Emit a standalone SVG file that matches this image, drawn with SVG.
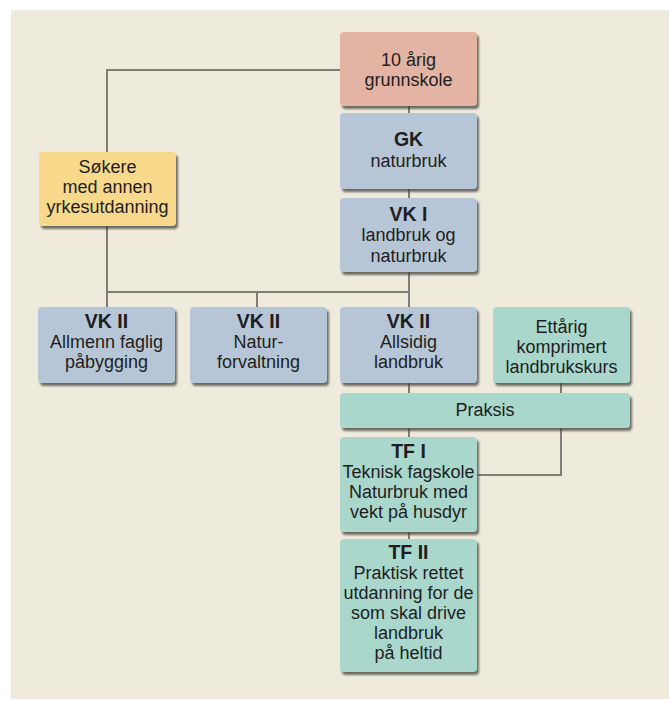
<svg xmlns="http://www.w3.org/2000/svg" width="669" height="701" viewBox="0 0 669 701">
<defs>
<filter id="sh" x="-10%" y="-10%" width="125%" height="130%">
<feDropShadow dx="2" dy="3" stdDeviation="1.2" flood-color="#3f3f3a" flood-opacity="0.75"/>
</filter>
<style>
.box{filter:url(#sh);}
.pink{fill:#e3b3a3;}
.blue{fill:#b6c6d6;}
.yel{fill:#f8d98b;}
.teal{fill:#a9d7cc;}
text{font-family:"Liberation Sans",Arial,sans-serif;font-size:18px;fill:#1e1e1e;text-anchor:middle;}
.b{font-weight:bold;font-size:19.5px;}
.ln{fill:none;stroke:#7e7e76;stroke-width:2;}
</style>
</defs>
<rect x="0" y="0" width="669" height="701" fill="#ffffff"/>
<rect x="11" y="10" width="658" height="689" fill="#eeeadc"/>
<g id="connectors">
<polyline class="ln" points="340,70 107,70 107,152"/>
<polyline class="ln" points="107,226 107,307"/>
<polyline class="ln" points="107,292 409,292"/>
<line class="ln" x1="257" y1="292" x2="257" y2="307"/>
<line class="ln" x1="409" y1="106" x2="409" y2="113"/>
<line class="ln" x1="409" y1="189" x2="409" y2="198"/>
<line class="ln" x1="409" y1="272" x2="409" y2="307"/>
<line class="ln" x1="409" y1="383" x2="409" y2="393"/>
<line class="ln" x1="561" y1="383" x2="561" y2="393"/>
<polyline class="ln" points="561,428 561,475 477,475"/>
<line class="ln" x1="409" y1="428" x2="409" y2="437"/>
<line class="ln" x1="409" y1="532" x2="409" y2="539"/>
</g>
<g id="grunnskole">
<rect class="box pink" x="340" y="32" width="137" height="74" rx="4"/>
<text x="408.5" y="66">10 årig</text>
<text x="408.5" y="86">grunnskole</text>
</g>
<g id="gk">
<rect class="box blue" x="340" y="113" width="137" height="76" rx="4"/>
<text class="b" x="408.5" y="146">GK</text>
<text x="408.5" y="167">naturbruk</text>
</g>
<g id="vk1">
<rect class="box blue" x="340" y="198" width="137" height="74" rx="4"/>
<text class="b" x="408.5" y="221">VK I</text>
<text x="408.5" y="241">landbruk og</text>
<text x="408.5" y="262">naturbruk</text>
</g>
<g id="sokere">
<rect class="box yel" x="39" y="152" width="137" height="74" rx="4"/>
<text x="107.5" y="173">Søkere</text>
<text x="107.5" y="193">med annen</text>
<text x="107.5" y="213">yrkesutdanning</text>
</g>
<g id="vk2-allmenn">
<rect class="box blue" x="38" y="307" width="137" height="76" rx="4"/>
<text class="b" x="106.5" y="328">VK II</text>
<text x="106.5" y="348">Allmenn faglig</text>
<text x="106.5" y="368">påbygging</text>
</g>
<g id="vk2-natur">
<rect class="box blue" x="190" y="307" width="137" height="76" rx="4"/>
<text class="b" x="258.5" y="328">VK II</text>
<text x="258.5" y="348">Natur-</text>
<text x="258.5" y="368">forvaltning</text>
</g>
<g id="vk2-allsidig">
<rect class="box blue" x="340" y="307" width="137" height="76" rx="4"/>
<text class="b" x="408.5" y="328">VK II</text>
<text x="408.5" y="348">Allsidig</text>
<text x="408.5" y="368">landbruk</text>
</g>
<g id="ettarig">
<rect class="box teal" x="493" y="307" width="137" height="76" rx="4"/>
<text x="561.5" y="333">Ettårig</text>
<text x="561.5" y="353">komprimert</text>
<text x="561.5" y="373">landbrukskurs</text>
</g>
<g id="praksis">
<rect class="box teal" x="340" y="393" width="290" height="35" rx="4"/>
<text x="485" y="416">Praksis</text>
</g>
<g id="tf1">
<rect class="box teal" x="340" y="437" width="137" height="95" rx="4"/>
<text class="b" x="408.5" y="458">TF I</text>
<text x="408.5" y="478">Teknisk fagskole</text>
<text x="408.5" y="498">Naturbruk med</text>
<text x="408.5" y="518">vekt på husdyr</text>
</g>
<g id="tf2">
<rect class="box teal" x="340" y="539" width="137" height="133" rx="4"/>
<text class="b" x="408.5" y="559">TF II</text>
<text x="408.5" y="579">Praktisk rettet</text>
<text x="408.5" y="599">utdanning for de</text>
<text x="408.5" y="619">som skal drive</text>
<text x="408.5" y="639">landbruk</text>
<text x="408.5" y="659">på heltid</text>
</g>
</svg>
